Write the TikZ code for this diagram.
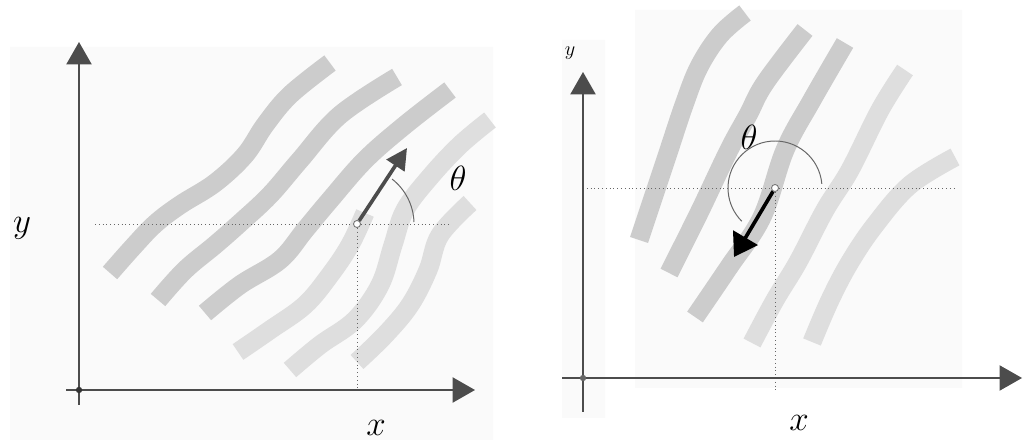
\documentclass[tikz,border=0pt]{standalone}
\usepackage{fontspec}
\usetikzlibrary{arrows.meta}
\begin{document}
\begin{tikzpicture}[x=.025cm,y=.025cm,
  axis/.style={line width=1.1pt,draw=black!70,-{Triangle[length=16pt,width=18pt]}},
  band/.style={line width=13.5pt,draw=black!20,smooth,tension=.6},
  faintband/.style={band,draw=black!13},
  guide/.style={dotted,line width=.7pt,draw=black!60},
  pnt/.style={circle,inner sep=0pt,minimum size=5pt,draw=black!55,fill=white,line width=.6pt},
  orig/.style={circle,inner sep=0pt,minimum size=4.5pt,fill=black!80},
  lbl/.style={font=\fontsize{24}{26}\selectfont}]
  \useasboundingbox (0,0) rectangle (1023,445);
  \fill[black!2] (10,5) rectangle (493,398) (635,57) rectangle (962,435) (562,27) rectangle (605,405);
  % left panel
  \draw[band] plot coordinates {(110,172) (133,198) (155,221) (180,240) (215,262) (245,290) (265,320) (290,350) (330,382)};
  \draw[band] plot coordinates {(158,145) (185,175) (215,200) (240,222) (270,250) (300,285) (340,330) (397,368)};
  \draw[band] plot coordinates {(205,132) (240,160) (280,185) (305,215) (330,245) (365,285) (405,320) (450,355)};
  \draw[faintband] plot coordinates {(238,93) (270,115) (305,140) (330,170) (350,200) (365,232)};
  \draw[faintband] plot coordinates {(290,75) (320,100) (355,125) (380,160) (393,200) (405,235) (430,268) (460,300) (490,325)};
  \draw[faintband] plot coordinates {(357,83) (385,110) (410,140) (428,175) (440,210) (470,242)};
  \coordinate (O1) at (79,55); \coordinate (Y1) at (79,403); \coordinate (Y1b) at (79,40);
  \coordinate (X1) at (475,55); \coordinate (X1b) at (66,55);
  \coordinate (H1a) at (95,221); \coordinate (H1b) at (450,221);
  \coordinate (D1) at (407,297);
  \node[pnt] (P1) at (357,221) {};
  \draw[guide] (H1a) -- (P1) -- (H1b);
  \draw[guide] (P1) -- (P1 |- O1);
  \draw[axis] (Y1b) -- (Y1);
  \draw[axis] (X1b) -- (X1);
  \node[orig] (O1d) at (O1) {};
  \draw[line width=.7pt,black!60] ([shift={(2:57)}]P1.center) arc[start angle=2,end angle=52,radius=57];
  \draw[line width=2.6pt,black!70,-{Triangle[length=15pt,width=15pt]}] (P1) -- (D1);
  \node[lbl] (T1) at (458,267) {$\theta$};
  \node[lbl] (ly1) at (22,217) {$y$};
  \node[lbl] (lx1) at (376,17) {$x$};
  % right panel
  \draw[band] plot coordinates {(639,205) (654,250) (669,295) (684,340) (699,378) (720,410) (745,432)};
  \draw[band] plot coordinates {(669,172) (699,232) (729,295) (748,330) (765,362) (805,415)};
  \draw[band] plot coordinates {(695,128) (729,178) (762,228) (785,295) (812,345) (845,402)};
  \draw[faintband] plot coordinates {(752,102) (775,145) (798,183) (825,235) (850,275) (880,335) (905,375)};
  \draw[faintband] plot coordinates {(812,103) (830,145) (850,183) (875,220) (910,260) (955,288)};
  \coordinate (O2) at (583,67); \coordinate (Y2) at (583,373); \coordinate (Y2b) at (583,33);
  \coordinate (X2) at (1022,67); \coordinate (X2b) at (562,67);
  \coordinate (H2a) at (583,257); \coordinate (H2b) at (957,257);
  \coordinate (V2) at (775,53);
  \coordinate (D2) at (734,188);
  \node[pnt] (P2) at (775,257) {};
  \draw[guide] (H2a) -- (P2) -- (H2b);
  \draw[guide] (P2) -- (V2);
  \draw[axis] (Y2b) -- (Y2);
  \draw[axis,line width=.8pt] (X2b) -- (X2);
  \node[orig,fill=black!60] (O2d) at (O2) {};
  \draw[line width=.7pt,black!60] ([shift={(5:47)}]P2.center) arc[start angle=5,end angle=225,radius=47];
  \draw[line width=2.6pt,black,-{Triangle[length=16pt,width=20pt]}] (P2) -- (D2);
  \node[lbl] (T2) at (749,308) {$\theta$};
  \node[lbl,font=\fontsize{14}{16}\selectfont] (ly2) at (570,392) {$y$};
  \node[lbl] (lx2) at (799,22) {$x$};
\end{tikzpicture}
\end{document}
